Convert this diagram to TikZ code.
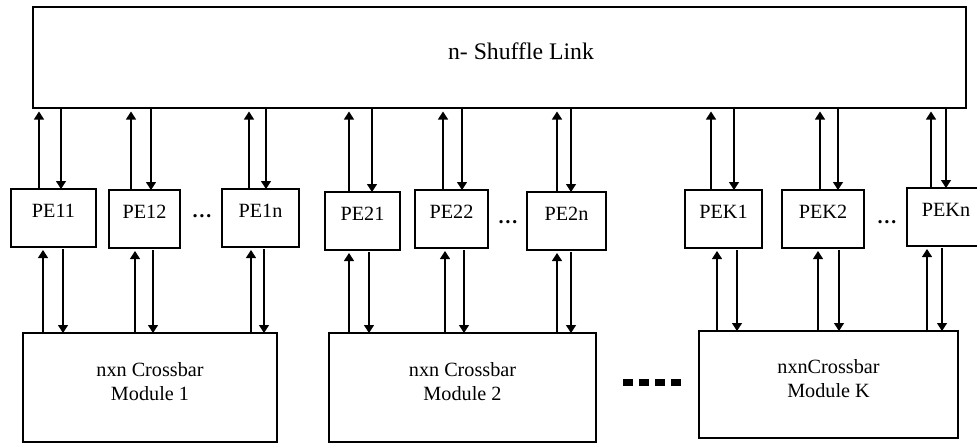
\documentclass[tikz,border=0pt]{standalone}
\usepackage{fontspec}
\setmainfont{Liberation Serif}
\usetikzlibrary{arrows.meta}
\newcommand{\lf}{\fontsize{13.5}{16}\selectfont}
\newcommand{\pf}{\fontsize{11.5}{13}\selectfont}
\newcommand{\mf}{\fontsize{11.5}{14}\selectfont}
\begin{document}
\begin{tikzpicture}[x=0.2mm, y=-0.2mm, every node/.style={inner sep=0pt, outer sep=0pt},
  box/.style={draw, line width=0.9pt},
  pe/.style={box, anchor=north west, minimum height=11.6mm, font=\pf, text height=7.5pt, text depth=8.5pt},
  module/.style={box, anchor=north west, align=center, font=\mf, text depth=7pt},
  flow/.style={line width=0.65pt, -{Triangle[width=2mm, length=1.6mm]}}]
\clip (0,0) rectangle (977,443);
% ---- wires between one PE, the shuffle link and its crossbar
\newcommand{\pelinks}[6]{% #1 = PE, #2 = module, #3/#4 = x of up/down wire above, #5/#6 = x of up/down wire below
  \coordinate (ua) at (#3,0); \coordinate (da) at (#4,0);
  \coordinate (ub) at (#5,0); \coordinate (db) at (#6,0);
  \draw[flow, shorten >=0.7mm] (ua |- #1.north) -- (ua |- link.south);
  \draw[flow] (da |- link.south) -- (da |- #1.north);
  \draw[flow, shorten >=0.6mm] (ub |- #2.north) -- (ub |- #1.south);
  \draw[flow, shorten <=0.4mm] (db |- #1.south) -- (db |- #2.north);
}
% shuffle link
\node[box, anchor=north west, minimum width=186.6mm, minimum height=20.2mm] (link) at (33,7) {};
\node[font=\lf] (linktext) at (521,51) {n- Shuffle Link};
% processing elements
\node[pe, minimum width=17mm] (pe11) at (11,189) {PE11};
\node[pe, minimum width=14.2mm] (pe12) at (109,190) {PE12};
\node[pe, minimum width=15.4mm] (pe1n) at (222,189) {PE1n};
\node[pe, minimum width=15mm] (pe21) at (325,192) {PE21};
\node[pe, minimum width=14.6mm] (pe22) at (415,190) {PE22};
\node[pe, minimum width=15.8mm] (pe2n) at (527,192) {PE2n};
\node[pe, minimum width=15.4mm] (pek1) at (685,190) {PEK1};
\node[pe, minimum width=16.4mm] (pek2) at (782,190) {PEK2};
\node[pe, minimum width=15.6mm] (pekn) at (907,188) {PEKn};
\node[font=\pf\bfseries] (dots1) at (202,216) {\ldots};
\node[font=\pf\bfseries] (dots2) at (508,222) {\ldots};
\node[font=\pf\bfseries] (dotsk) at (887,222) {\ldots};
% crossbar modules
\node[module, minimum width=50.8mm, minimum height=21.8mm] (m1) at (23,333) {nxn Crossbar\\Module 1};
\node[module, minimum width=53.4mm, minimum height=21.8mm] (m2) at (329,333) {nxn Crossbar\\Module 2};
\node[module, minimum width=51.8mm, minimum height=21.4mm] (mk) at (699,331) {nxnCrossbar\\Module K};
\foreach \i in {0,...,3}
  \fill (623+\i*16,379) rectangle ++(10,7);
% wires
\pelinks{pe11}{m1}{39}{61}{43}{63}
\pelinks{pe12}{m1}{131}{151}{135}{153}
\pelinks{pe1n}{m1}{249}{266}{251}{264}
\pelinks{pe21}{m2}{349}{372}{349}{369}
\pelinks{pe22}{m2}{443}{462}{445}{464}
\pelinks{pe2n}{m2}{557}{571}{557}{571}
\pelinks{pek1}{mk}{711}{734}{717}{737}
\pelinks{pek2}{mk}{820}{838}{818}{839}
\pelinks{pekn}{mk}{931}{946}{927}{942}
\end{tikzpicture}
\end{document}
